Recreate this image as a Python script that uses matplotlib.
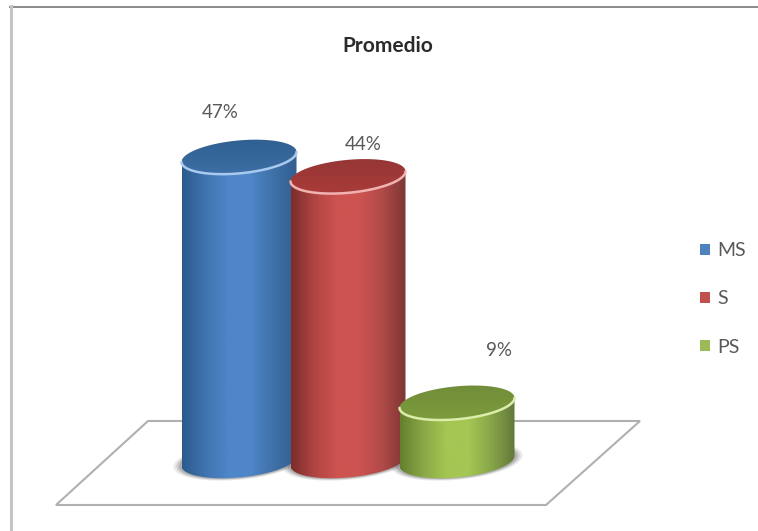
import numpy as np
import matplotlib
matplotlib.use("Agg")
import matplotlib.pyplot as plt
from matplotlib.colors import LinearSegmentedColormap
from matplotlib.patches import Patch, PathPatch, Polygon
from matplotlib.path import Path
from matplotlib.transforms import Affine2D

categories = ["MS", "S", "PS"]
values = [47, 44, 9]
value_labels = ["47%", "44%", "9%"]
title = "Promedio"

W, H = 758, 531
X0, X_STEP = 239, 109   # pixel x of first bar, pixels between bars
Y0, Y_UNIT = 461, 6.47  # pixel y of zero, pixels per percent

RX = 57.5 / X_STEP      # cylinder radius in x units
RY = 16.5 / Y_UNIT      # ellipse half height in y units
TILT = 5.0 / Y_UNIT     # ellipse tilt, right side higher

side_colors = [
    ["#2c5a8c", "#3f74b0", "#4f86c8", "#4f86c8", "#3f70a8", "#335f90"],
    ["#7c2d2b", "#b04542", "#cd5351", "#cd5351", "#b04a48", "#7d3634"],
    ["#64802f", "#8aa846", "#a4c653", "#a4c653", "#87a548", "#62793a"],
]
cap_colors = [
    ["#3f72a8", "#2e5d8e"],
    ["#ac3c3a", "#923634"],
    ["#7f9f3c", "#6f8a3a"],
]
rim_colors = ["#a9c9ee", "#f2b3b0", "#dcecaa"]
shadow_color = "#6e6e6e"
text_color = "#595959"
legend_colors = ["#4f81bd", "#c0504d", "#9bbb59"]

plt.rcParams["font.family"] = ["Lato", "DejaVu Sans"]

fig = plt.figure(figsize=(W / 100, H / 100), dpi=100)
ax = fig.add_axes([0, 0, 1, 1])
ax.set_axis_off()

# pixel coordinates for the frame and the floor
px = Affine2D().scale(1 / W, -1 / H).translate(0, 1) + fig.transFigure

ax.plot([10, 758], [6.5, 6.5], color="#8a8a8a", lw=1.4, transform=px)
ax.plot([11, 11], [6, 531], color="#c4c4c4", lw=2.2, transform=px)
ax.add_patch(Polygon([(148, 421), (640, 421), (546, 505), (56, 505)], closed=True,
                     facecolor="white", edgecolor="#b0b0b0", lw=1.5,
                     transform=px, zorder=1))


def ellipse(cx, cy, t):
    return np.column_stack([cx + RX * np.cos(t),
                            cy + RY * np.sin(t) + TILT * np.cos(t)])


lower = np.linspace(np.pi, 2 * np.pi, 60)
full = np.linspace(0, 2 * np.pi, 120)

for i, v in enumerate(values):
    z = 3 + i

    # soft shadow under the base
    for grow, alpha in [(1.14, 0.15), (1.09, 0.22), (1.05, 0.3)]:
        pts = ellipse(i, 0, full)
        pts[:, 0] = i + (pts[:, 0] - i) * grow
        pts[:, 1] = pts[:, 1] * grow
        ax.add_patch(Polygon(pts, closed=True, facecolor=shadow_color,
                             edgecolor="none", alpha=alpha, zorder=2))

    # cylinder side with a horizontal shading
    base = ellipse(i, 0, lower)
    top = ellipse(i, v, lower)[::-1]
    body = Path(np.vstack([base, top, base[:1]]), closed=True)
    patch = PathPatch(body, facecolor="none", edgecolor="none", zorder=z)
    ax.add_patch(patch)
    cmap = LinearSegmentedColormap.from_list("side", side_colors[i])
    img = ax.imshow(np.linspace(0, 1, 128)[None, :], cmap=cmap, aspect="auto",
                    extent=[i - RX, i + RX, -RY * 2, v + RY], zorder=z)
    img.set_clip_path(patch)

    # top cap, rim on the front edge
    cap_pts = ellipse(i, v, full)
    cap = PathPatch(Path(cap_pts, closed=True), facecolor="none",
                    edgecolor="none", zorder=z)
    ax.add_patch(cap)
    cmap = LinearSegmentedColormap.from_list("cap", cap_colors[i])
    img = ax.imshow(np.linspace(0, 1, 64)[:, None], cmap=cmap, aspect="auto",
                    extent=[i - RX, i + RX, v - RY * 1.5, v + RY * 1.5],
                    origin="lower", zorder=z)
    img.set_clip_path(cap)
    rim = ellipse(i, v, lower)
    ax.plot(rim[:, 0], rim[:, 1], color=rim_colors[i], lw=1.8, zorder=z,
            solid_capstyle="round")

ax.set_xlim(-X0 / X_STEP, (W - X0) / X_STEP)
ax.set_ylim((Y0 - H) / Y_UNIT, Y0 / Y_UNIT)

ax.text(388, 46, title, transform=px, ha="center", va="center",
        fontsize=15, fontweight="bold", color="#2a2a2a")

label_pos = [(220, 112), (363, 145), (499, 351)]
for (lx, ly), lab in zip(label_pos, value_labels):
    ax.text(lx, ly, lab, transform=px, ha="center", va="center",
            fontsize=13.5, color=text_color)

handles = [Patch(facecolor=c, edgecolor="none") for c in legend_colors]
ax.legend(handles, categories, loc="center left", frameon=False,
          bbox_to_anchor=(700 / W, 1 - 299 / H), bbox_transform=fig.transFigure,
          handlelength=0.5, handleheight=0.5, handletextpad=0.4,
          labelspacing=1.6, borderpad=0, borderaxespad=0,
          fontsize=14, labelcolor=text_color)

fig.savefig("out.png", dpi=100)
